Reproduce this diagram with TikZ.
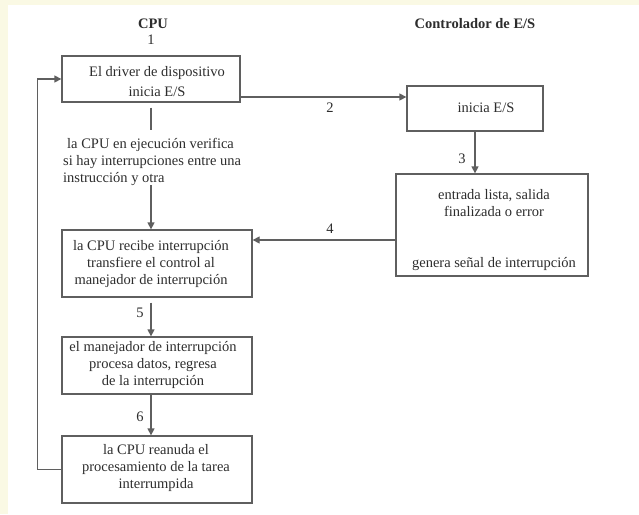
\documentclass[tikz,border=0pt]{standalone}
\usepackage{fontspec}
\setmainfont{Liberation Serif}
\usetikzlibrary{arrows.meta}
\definecolor{cream}{RGB}{250,249,228}
\definecolor{lncol}{RGB}{95,95,95}
\definecolor{txtcol}{RGB}{45,45,45}
\tikzset{
  box/.style={draw=lncol, line width=1.3pt, fill=white, rectangle, inner sep=0pt},
  txt/.style={text=txtcol, font=\fontsize{14.5}{17}\selectfont, align=center, inner sep=0pt},
  lab/.style={text=txtcol, font=\fontsize{14.5}{17}\selectfont, inner sep=0pt},
  ttl/.style={text=txtcol, font=\fontsize{14.5}{17}\selectfont\bfseries, inner sep=0pt},
  ln/.style={draw=lncol, line width=1.3pt},
  arr/.style={ln, -{Triangle[length=7pt,width=7pt]}}
}
\begin{document}
\begin{tikzpicture}[x=1pt,y=-1pt]
\useasboundingbox (0,0) rectangle (639,514);
\fill[cream] (0,0) rectangle (639,514);
\fill[white] (8,5) rectangle (639,514);

% titles
\node[ttl] (tcpu) at (153,24) {CPU};
\node[ttl] (tctl) at (475,24) {Controlador de E/S};
\node[lab] (n1) at (151,40) {1};

% boxes
\node[box, minimum width=178pt, minimum height=46pt] (box1) at (151,79) {};
\node[box, minimum width=136pt, minimum height=45pt] (box3) at (475,108.5) {};
\node[box, minimum width=192pt, minimum height=102pt] (box4) at (492,225) {};
\node[box, minimum width=190pt, minimum height=67pt] (box2) at (157,263.5) {};
\node[box, minimum width=190pt, minimum height=57pt] (box5) at (157,365.5) {};
\node[box, minimum width=190pt, minimum height=67pt] (box6) at (157,469.5) {};

% texts
\node[txt, font=\fontsize{14.5}{20}\selectfont] (t1) at (157,82) {El driver de dispositivo\\inicia E/S};
\node[txt] (t3) at (486,108) {inicia E/S};
\node[txt] (t4) at (494,230) {entrada lista, salida\\finalizada o error\\[34pt]genera señal de interrupción};
\node[txt] (t2) at (151,264) {la CPU recibe interrupción\\transfiere el control al\\manejador de interrupción};
\node[txt] (t5) at (153,365) {el manejador de interrupción\\procesa datos, regresa\\de la interrupción};
\node[txt] (t6) at (156,468) {la CPU reanuda el\\procesamiento de la tarea\\interrumpida};
\node[txt, align=left, anchor=north west] (verif) at (63,138) {\hspace*{4pt}la CPU en ejecución verifica\\si hay interrupciones entre una\\instrucción y otra};

% connectors
\draw[ln] ([yshift=-5pt]box1.south) -- (box1.south |- 0,130);
\draw[arr] (box1.south |- 0,185) -- (box1.south |- box2.north);
\draw[arr] (box1.east |- 0,97) -- (box3.west |- 0,97);
\draw[arr] (box3.south) -- (box3.south |- box4.north);
\draw[arr] (box4.west |- 0,240) -- (box2.east |- 0,240);
\draw[arr] ([yshift=-5pt]box1.south |- box2.south) -- (box1.south |- box5.north);
\draw[arr] (box1.south |- box5.south) -- (box1.south |- box6.north);
\draw[arr] (box6.west) -| ([xshift=-24pt]box1.west) -- (box1.west);

% step labels
\node[lab] (n2) at (330,108) {2};
\node[lab] (n3) at (462,159) {3};
\node[lab] (n4) at (330,229) {4};
\node[lab] (n5) at (140,313) {5};
\node[lab] (n6) at (140,417) {6};
\end{tikzpicture}
\end{document}
